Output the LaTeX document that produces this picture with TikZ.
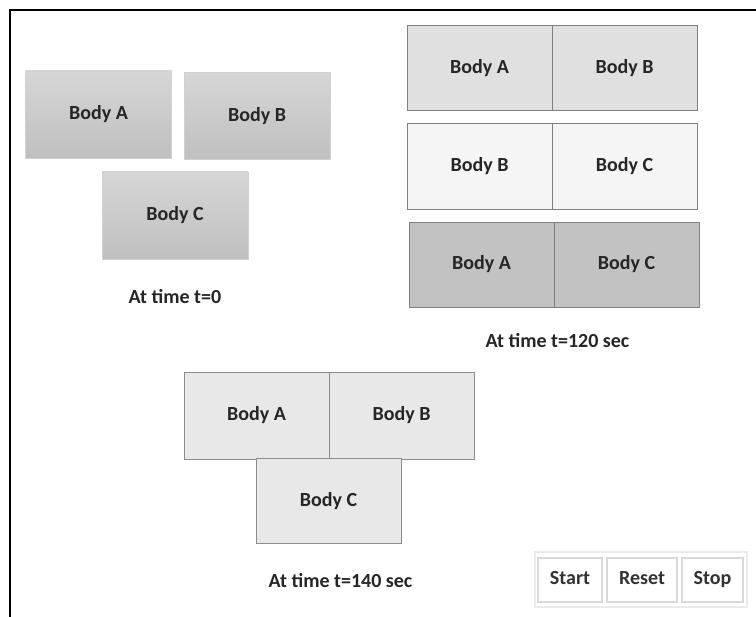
\documentclass[tikz,border=0pt]{standalone}
\usepackage{fontspec}
\setmainfont{Carlito}
\begin{document}
\begin{tikzpicture}[x=1pt,y=-1pt,
  bodybox/.style={rectangle, inner sep=0pt, font=\bfseries\fontsize{20}{24}\selectfont, text=black!85},
  gradbox/.style={bodybox, draw=black!18, top color=black!16, bottom color=black!25, minimum width=146pt, minimum height=87pt},
  rowbox/.style={bodybox, draw=black!50, minimum width=145pt},
  texbox/.style={bodybox, draw=black!45, fill=black!9, minimum width=145pt, minimum height=87pt},
  caption/.style={font=\bfseries\fontsize{20}{24}\selectfont, text=black!85, inner sep=0pt},
  btn/.style={rectangle, draw=black!15, line width=1.5pt, fill=white, inner sep=0pt, minimum height=44pt, text height=14pt, text depth=4pt, font=\bfseries\fontsize{20}{24}\selectfont, text=black!80}
]
\useasboundingbox (0,0) rectangle (756,617);
\fill[white] (0,0) rectangle (756,617);
% frame
\draw[line width=2.2pt] (10,617) -- (10,10) -- (756,10);

% t = 0
\node[gradbox] (a0) at (98.5,114.5) {Body A};
\node[gradbox] (b0) at (257,116) {Body B};
\node[gradbox] (c0) at (175,215.5) {Body C};
\node[caption] (l0) at (175,297) {At time t=0};

% t = 120
\node[rowbox, fill=black!12, minimum height=85pt] (a1) at (479.5,68) {Body A};
\node[rowbox, fill=black!12, minimum height=85pt] (b1) at (624.5,68) {Body B};
\node[rowbox, fill=black!4, minimum height=86pt] (b2) at (479.5,166) {Body B};
\node[rowbox, fill=black!4, minimum height=86pt] (c2) at (624.5,166) {Body C};
\node[rowbox, fill=black!24, minimum height=85pt] (a3) at (481.5,264.5) {Body A};
\node[rowbox, fill=black!24, minimum height=85pt] (c3) at (626.5,264.5) {Body C};
\node[caption] (l1) at (557.5,341) {At time t=120 sec};

% t = 140
\node[texbox] (a4) at (256.5,415.5) {Body A};
\node[texbox] (b4) at (401.5,415.5) {Body B};
\node[texbox, minimum height=85pt] (c4) at (328.5,501) {Body C};
\node[caption] (l2) at (340.5,581) {At time t=140 sec};

% buttons
\node[rectangle, draw=black!8, line width=1.5pt, minimum width=212pt, minimum height=55pt, inner sep=0pt] (panel) at (641,579.5) {};
\node[btn, minimum width=64pt] (start) at (570,580) {Start};
\node[btn, minimum width=70pt] (reset) at (642,580) {Reset};
\node[btn, minimum width=61pt] (stop) at (712.5,580) {Stop};
\end{tikzpicture}
\end{document}
